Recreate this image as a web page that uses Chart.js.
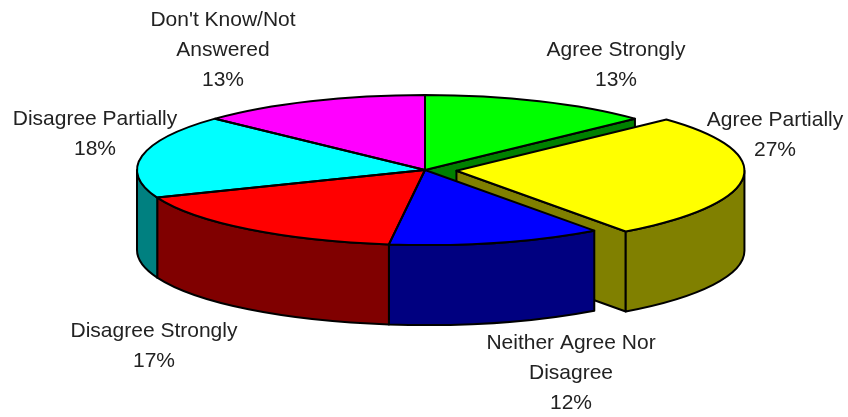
<!DOCTYPE html>
<html>
<head>
<meta charset="utf-8">
<style>html,body{margin:0;padding:0;background:#fff}canvas{display:block}</style>
<script src="https://cdn.jsdelivr.net/npm/chart.js@4/dist/chart.umd.min.js"></script>
</head>
<body>
<canvas id="c" width="848" height="417"></canvas>
<script>
const categories = ["Agree Strongly","Agree Partially","Neither Agree Nor Disagree","Disagree Strongly","Disagree Partially","Don't Know/Not Answered"];
const values = [13,27,12,17,18,13];
const percentLabels = ["13%","27%","12%","17%","18%","13%"];
const labelLines = [["Agree Strongly"],["Agree Partially"],["Neither Agree Nor","Disagree"],["Disagree Strongly"],["Disagree Partially"],["Don't Know/Not","Answered"]];
const topColors = ["#00ff00","#ffff00","#0000ff","#ff0000","#00ffff","#ff00ff"];
const sideColors = ["#008000","#808000","#000080","#800000","#008080","#800080"];
const explode = [0,75,0,0,0,0];

const CENTER = {x:425, y:170}, RADIUS = {x:288, y:75}, DEPTH = 80;
const labelAnchors = [{x:616,y:50},{x:775,y:120},{x:571,y:343},{x:154,y:331},{x:95,y:119},{x:223,y:20}];
const LINE = 30;

const pie3d = {
  id:'pie3d',
  beforeDatasetsDraw(chart){
    const ctx = chart.ctx, arcs = chart.getDatasetMeta(0).data, R = arcs[0].outerRadius;
    const sx = RADIUS.x/R, sy = RADIUS.y/R;
    const geo = el => {
      const o = (el.options.offset||0)/4, m = (el.startAngle+el.endAngle)/2;
      return {cx:CENTER.x+Math.cos(m)*o*sx, cy:CENTER.y+Math.sin(m)*o*sy};
    };
    chart.$geo = geo;
    ctx.save();
    ctx.lineWidth = 2; ctx.strokeStyle = '#000'; ctx.lineJoin = 'round';
    const face = (g,a,color) => {
      const px = g.cx+Math.cos(a)*RADIUS.x, py = g.cy+Math.sin(a)*RADIUS.y;
      ctx.beginPath();
      ctx.moveTo(g.cx,g.cy); ctx.lineTo(px,py); ctx.lineTo(px,py+DEPTH); ctx.lineTo(g.cx,g.cy+DEPTH);
      ctx.closePath(); ctx.fillStyle = color; ctx.fill(); ctx.stroke();
    };
    arcs.forEach((el,i) => {
      const g = geo(el), n = arcs.length;
      const next = arcs[(i+1)%n], prev = arcs[(i-1+n)%n];
      const selfOff = el.options.offset>0;
      if ((selfOff||next.options.offset>0) && Math.cos(el.endAngle)>0) face(g,el.endAngle,sideColors[i]);
      if ((selfOff||prev.options.offset>0) && Math.cos(el.startAngle)<0) face(g,el.startAngle,sideColors[i]);
      const a0 = Math.max(el.startAngle,0), a1 = Math.min(el.endAngle,Math.PI);
      if (a1>a0) {
        ctx.beginPath();
        ctx.ellipse(g.cx,g.cy,RADIUS.x,RADIUS.y,0,a0,a1);
        ctx.ellipse(g.cx,g.cy+DEPTH,RADIUS.x,RADIUS.y,0,a1,a0,true);
        ctx.closePath(); ctx.fillStyle = sideColors[i]; ctx.fill(); ctx.stroke();
      }
    });
    ctx.restore();
    ctx.save();
    ctx.translate(CENTER.x,CENTER.y); ctx.scale(sx,sy); ctx.translate(-arcs[0].x,-arcs[0].y);
  },
  afterDatasetsDraw(chart){
    const ctx = chart.ctx, arcs = chart.getDatasetMeta(0).data;
    ctx.restore();
    ctx.save();
    ctx.lineWidth = 2; ctx.strokeStyle = '#000'; ctx.lineJoin = 'round';
    arcs.forEach(el => {
      const g = chart.$geo(el);
      ctx.beginPath();
      ctx.moveTo(g.cx,g.cy);
      ctx.ellipse(g.cx,g.cy,RADIUS.x,RADIUS.y,0,el.startAngle,el.endAngle);
      ctx.closePath(); ctx.stroke();
    });
    ctx.fillStyle = '#222';
    ctx.font = '21px "Liberation Sans", Arial, sans-serif';
    ctx.textAlign = 'center'; ctx.textBaseline = 'middle';
    labelLines.forEach((lines,i) => {
      const a = labelAnchors[i];
      lines.concat(percentLabels[i]).forEach((t,k) => ctx.fillText(t,a.x,a.y+k*LINE));
    });
    ctx.restore();
  }
};

new Chart(document.getElementById('c'),{
  type:'pie',
  data:{labels:categories,datasets:[{data:values,backgroundColor:topColors,borderWidth:0,offset:explode,clip:false}]},
  options:{
    responsive:false,animation:false,
    layout:{padding:0},
    plugins:{legend:{display:false},tooltip:{enabled:false}}
  },
  plugins:[pie3d]
});
</script>
</body>
</html>
